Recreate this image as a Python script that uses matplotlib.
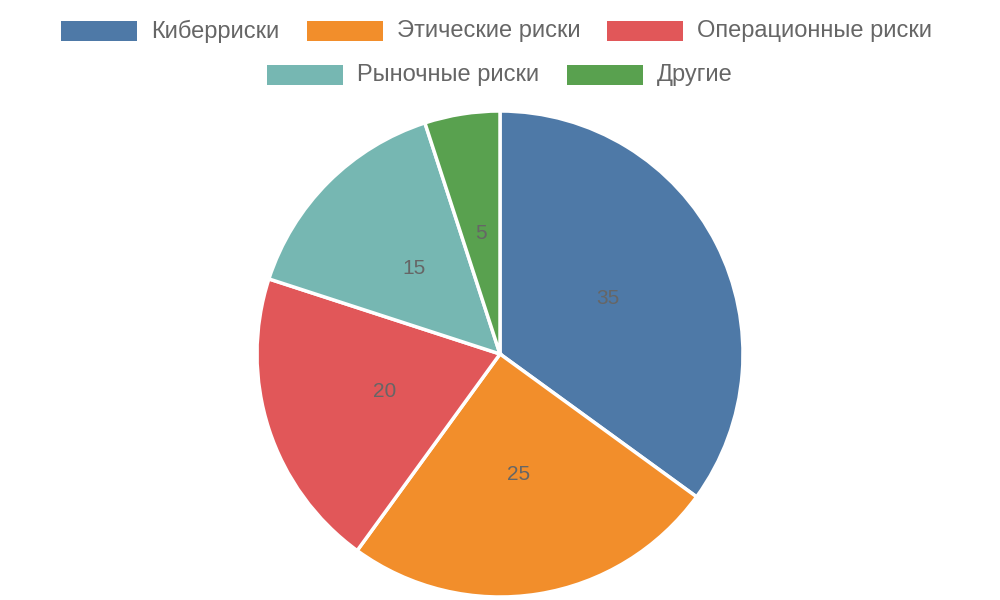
import matplotlib.pyplot as plt
import matplotlib.patches as patches

plt.rcParams['font.family'] = ['Liberation Sans', 'DejaVu Sans']

labels = ['Киберриски', 'Этические риски', 'Операционные риски', 'Рыночные риски', 'Другие']
values = [35, 25, 20, 15, 5]
colors = ['#4e79a7', '#f28e2b', '#e15759', '#76b7b2', '#59a14f']

fig = plt.figure(figsize=(10, 6), dpi=100)
ax = fig.add_axes([0, 0, 1, 1])
ax.set_xlim(0, 1000)
ax.set_ylim(0, 600)
ax.axis('off')

ax.pie(values, colors=colors, startangle=90, counterclock=False,
       center=(500, 246), radius=243, frame=True,
       labels=[str(v) for v in values], labeldistance=0.5,
       textprops={'fontsize': 15, 'color': '#666666', 'ha': 'center', 'va': 'center'},
       wedgeprops={'edgecolor': 'white', 'linewidth': 2.5})
ax.set_xlim(0, 1000)
ax.set_ylim(0, 600)
ax.set_aspect('equal')
ax.axis('off')

# legend, two centred rows
legend_pos = [(61, 31), (307, 31), (607, 31), (267, 75), (567, 75)]
for (x, y), lab, c in zip(legend_pos, labels, colors):
    ax.add_patch(patches.Rectangle((x, 600 - y - 10), 76, 20, facecolor=c, edgecolor='none'))
    ax.text(x + 90, 600 - y, lab, fontsize=17, color='#666666', ha='left', va='center')

fig.savefig('out.png', dpi=100)
